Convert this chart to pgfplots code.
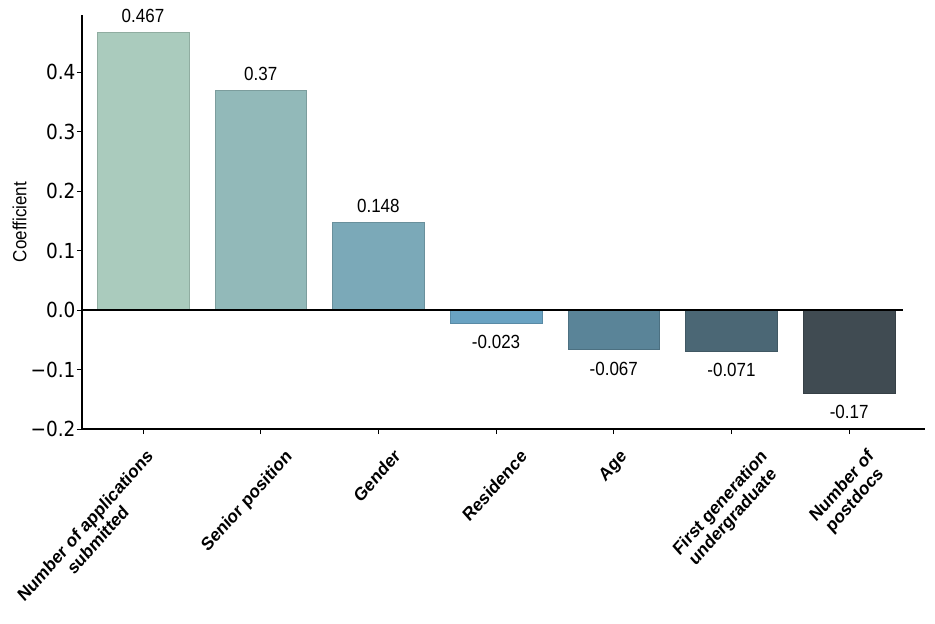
\documentclass[border=0pt]{standalone}
\usepackage{fontspec}
\setmainfont{Liberation Sans}
\newfontfamily\dejavu{DejaVu Sans}
\usepackage{graphicx}
\usepackage{pgfplots}
\pgfplotsset{compat=1.18}
\definecolor{c1}{HTML}{AACBBD}
\definecolor{c2}{HTML}{92B9B9}
\definecolor{c3}{HTML}{7BA9B8}
\definecolor{c4}{HTML}{69A2C2}
\definecolor{c5}{HTML}{5A8498}
\definecolor{c6}{HTML}{4B6775}
\definecolor{c7}{HTML}{404B52}
\newcommand{\xl}[1]{\scalebox{1}[1.12]{\rotatebox{45}{\bfseries\fontsize{16.5}{18}\selectfont\begin{tabular}{@{}c@{}}#1\end{tabular}}}}
\newcommand{\st}[1]{\scalebox{1}[1.12]{#1}}
\begin{document}
\begin{tikzpicture}
\path[use as bounding box] (-82pt,-195pt) rectangle (853pt,429pt);
\begin{axis}[
  at={(0pt,0pt)}, anchor=south west,
  scale only axis, width=843pt, height=414pt,
  xmin=-0.518, xmax=6.644, ymin=-0.2, ymax=0.496,
  axis x line*=bottom, axis y line*=left,
  axis line style={black, line width=1.3pt},
  tick align=outside, major tick length=5pt,
  tick style={black, line width=0.9pt},
  ytick={-0.2,-0.1,0,0.1,0.2,0.3,0.4},
  yticklabels={\st{−0.2},\st{−0.1},\st{0.0},\st{0.1},\st{0.2},\st{0.3},\st{0.4}},
  yticklabel style={font=\dejavu\fontsize{18.5}{20}\selectfont, xshift=2pt},
  xtick={0,1,2,3,4,5,6},
  xticklabels={
    {\xl{Number of applications\\submitted}\hspace*{100pt}},
    {\xl{Senior position}\hspace*{26pt}},
    {\xl{Gender}},
    {\xl{Residence}},
    {\xl{Age}},
    {\xl{First generation\\undergraduate}\hspace*{8pt}},
    {\xl{Number of\\postdocs}}},
  xticklabel style={anchor=north, yshift=-10pt},
  ylabel={\st{Coefficient}},
  ylabel style={font=\fontsize{17}{20}\selectfont, yshift=-3pt},
  nodes near coords style={font=\fontsize{17}{20}\selectfont, text=black},
]
\addplot[ybar, bar width=0.78, bar shift=0pt, fill=c1, draw=c1!85!black, line width=0.4pt,
  nodes near coords={\st{0.467}}, nodes near coords style={anchor=south, yshift=6pt}] coordinates {(0,0.467)};
\addplot[ybar, bar width=0.78, bar shift=0pt, fill=c2, draw=c2!85!black, line width=0.4pt,
  nodes near coords={\st{0.37}}, nodes near coords style={anchor=south, yshift=6pt}] coordinates {(1,0.37)};
\addplot[ybar, bar width=0.78, bar shift=0pt, fill=c3, draw=c3!85!black, line width=0.4pt,
  nodes near coords={\st{0.148}}, nodes near coords style={anchor=south, yshift=6pt}] coordinates {(2,0.148)};
\addplot[ybar, bar width=0.78, bar shift=0pt, fill=c4, draw=c4!85!black, line width=0.4pt,
  nodes near coords={\st{-0.023}}, nodes near coords style={anchor=north, yshift=-9pt}] coordinates {(3,-0.022)};
\addplot[ybar, bar width=0.78, bar shift=0pt, fill=c5, draw=c5!85!black, line width=0.4pt,
  nodes near coords={\st{-0.067}}, nodes near coords style={anchor=north, yshift=-9pt}] coordinates {(4,-0.066)};
\addplot[ybar, bar width=0.78, bar shift=0pt, fill=c6, draw=c6!85!black, line width=0.4pt,
  nodes near coords={\st{-0.071}}, nodes near coords style={anchor=north, yshift=-9pt}] coordinates {(5,-0.069)};
\addplot[ybar, bar width=0.78, bar shift=0pt, fill=c7, draw=c7!85!black, line width=0.4pt,
  nodes near coords={\st{-0.17}}, nodes near coords style={anchor=north, yshift=-9pt}] coordinates {(6,-0.139)};
\addplot[black, line width=1.3pt, forget plot] coordinates {(-0.518,0) (6.46,0)};
\end{axis}
\end{tikzpicture}
\end{document}
